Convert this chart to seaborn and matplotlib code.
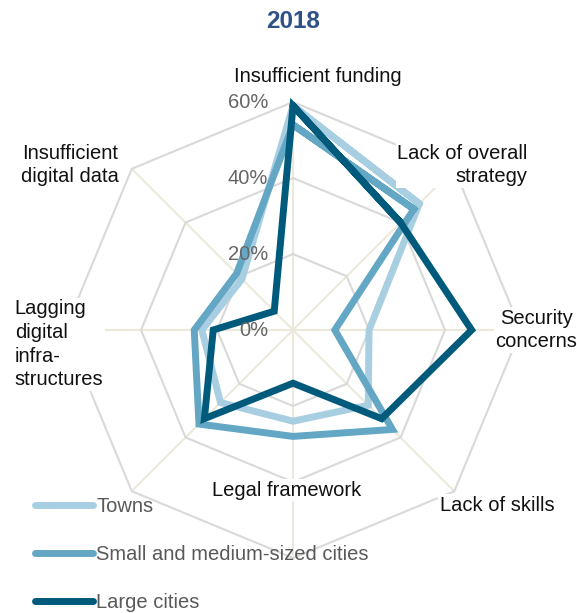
import numpy as np
import pandas as pd
import matplotlib
matplotlib.use("Agg")
import matplotlib.pyplot as plt
from matplotlib.lines import Line2D
from matplotlib.transforms import offset_copy
import seaborn as sns

# Survey shares (%) by obstacle, clockwise from the top
categories = [
    "Insufficient funding",
    "Lack of overall\nstrategy",
    "Security\nconcerns",
    "Lack of skills",
    "Legal framework",
    "",
    "Lagging\ndigital\ninfra-\nstructures",
    "Insufficient\ndigital data",
]
towns = [59, 47, 20, 28, 24, 27, 24, 19]
small_medium = [54, 45, 11, 37, 28, 35, 26, 21]
large_cities = [59, 40, 47, 33, 14, 33, 21, 7]

series_names = ["Towns", "Small and medium-sized cities", "Large cities"]
series_values = [towns, small_medium, large_cities]
radial_ticks = [0, 20, 40, 60]
title = "2018"

colors = ["#A8CEE2", "#63A7C4", "#005A7B"]

sns.set_theme(style="white")
plt.rcParams["font.family"] = ["Liberation Sans", "DejaVu Sans"]

fig = plt.figure(figsize=(5.77, 6.13), dpi=100)
ax = fig.add_axes([0.1127, 0.0897, 0.7903, 0.7439], projection="polar")
ax.set_theta_offset(np.pi / 2)
ax.set_theta_direction(-1)

n = len(categories)
angles = np.arange(n) * 2 * np.pi / n

# Octagonal grid: spokes and rings
for t in angles:
    ax.plot([t, t], [0, 60], color="#ECE9DC", lw=1.5, zorder=1, clip_on=False)
ring_theta = np.append(angles, angles[0])
for r in radial_ticks[1:]:
    ax.plot(ring_theta, [r] * (n + 1), color="#D9D9D9", lw=1.5, zorder=1, clip_on=False)

# Long-form table; each loop runs one vertex past the start so every corner is joined
rows = []
for name, vals in zip(series_names, series_values):
    idx = list(range(n)) + [0, 1]
    for step, i in enumerate(idx):
        rows.append({"series": name, "step": step, "theta": angles[i], "share": vals[i]})
df = pd.DataFrame(rows)

sns.lineplot(
    data=df, x="theta", y="share", hue="series", hue_order=series_names,
    palette=colors, sort=False, estimator=None, units="series",
    linewidth=5, ax=ax, legend=False, clip_on=False,
    solid_joinstyle="miter", solid_capstyle="round", zorder=3,
)
ax.set_ylim(0, 60)
ax.set_xlabel("")
ax.set_ylabel("")
ax.axis("off")

# Radial tick labels, just left of the vertical spoke
tick_tf = offset_copy(ax.transData, fig=fig, x=-25, y=0, units="dots")
for r in radial_ticks:
    ax.text(0, r, f"{r}%", transform=tick_tf, ha="right", va="center",
            color="#666666", fontsize=14.5, zorder=4)

# Category labels
label_pos = [
    (0.555, 1.055, "center"),
    (1.015, 0.862, "right"),
    (1.033, 0.500, "center"),
    (0.947, 0.116, "center"),
    (0.487, 0.149, "center"),
    (-0.12, 0.11, "center"),
    (-0.110, 0.469, "left"),
    (0.011, 0.862, "center"),
]
for text, (x, y, ha) in zip(categories, label_pos):
    if not text:
        continue
    ax.text(x, y, text, transform=ax.transAxes, ha=ha, va="center",
            multialignment=ha,
            fontsize=14.5, color="#111111", linespacing=1.32, zorder=5,
            bbox=dict(facecolor="white", edgecolor="none", pad=1.0))

fig.text(293 / 577, 1 - 22 / 613, title, ha="center", va="center",
         fontsize=17.5, fontweight="bold", color="#2E5288")

handles = [Line2D([0], [0], color=c, lw=5, solid_capstyle="round") for c in colors]
fig.legend(handles, series_names, loc="upper left",
           bbox_to_anchor=(35 / 577, 1 - 497 / 613), frameon=False,
           fontsize=14.5, labelcolor="#595959", handlelength=2.9,
           handletextpad=0.15, labelspacing=1.45, borderpad=0, borderaxespad=0)

fig.savefig("out.png", dpi=100, facecolor="white")
